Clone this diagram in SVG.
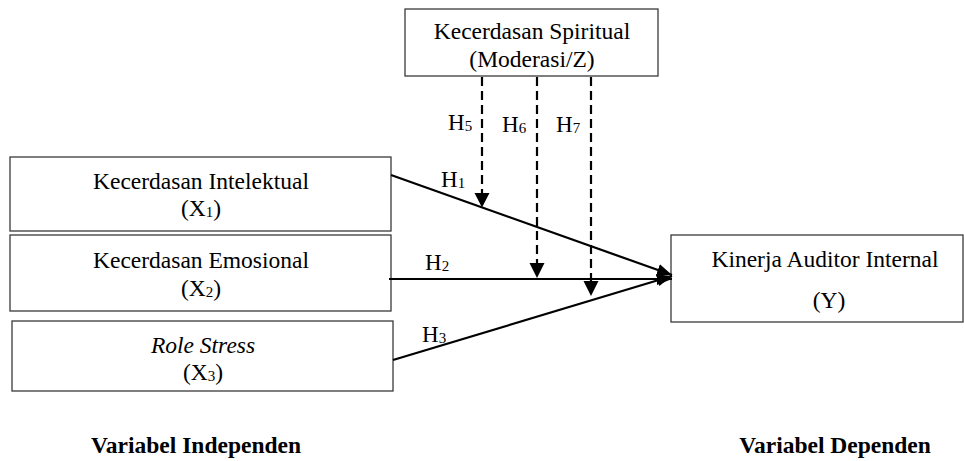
<svg xmlns="http://www.w3.org/2000/svg" width="964" height="461" viewBox="0 0 964 461">
<style>
.box{fill:#fff;stroke:#3a3a3a;stroke-width:1.3}
.t{font-family:"Liberation Serif","Times New Roman",serif;font-size:23.5px;fill:#000;text-anchor:middle}
.h{font-family:"Liberation Serif","Times New Roman",serif;font-size:23px;fill:#000}
.sub{font-size:15px}
.b{font-weight:bold}
.c{stroke:#000;stroke-width:2.2;fill:none}
.d{stroke:#000;stroke-width:2.2;fill:none;stroke-dasharray:9 5}
</style>
<defs>
<marker id="ah" markerUnits="userSpaceOnUse" markerWidth="16" markerHeight="14" refX="15" refY="7" orient="auto">
<path d="M0,1 L15,7 L0,13 Z" fill="#000"/>
</marker>
</defs>
<rect width="964" height="461" fill="#fff"/>
<g id="node-z">
<rect class="box" x="405" y="9" width="253" height="67"/>
<text class="t" x="532" y="39">Kecerdasan Spiritual</text>
<text class="t" x="532" y="67">(Moderasi/Z)</text>
</g>
<g id="node-x1">
<rect class="box" x="10" y="157" width="381" height="74"/>
<text class="t" x="201" y="189">Kecerdasan Intelektual</text>
<text class="t" x="201" y="216">(X<tspan class="sub" dy="1">1</tspan><tspan dy="-1">)</tspan></text>
</g>
<g id="node-x2">
<rect class="box" x="10" y="235" width="381" height="76"/>
<text class="t" x="201" y="268">Kecerdasan Emosional</text>
<text class="t" x="201" y="296">(X<tspan class="sub" dy="1">2</tspan><tspan dy="-1">)</tspan></text>
</g>
<g id="node-x3">
<rect class="box" x="12" y="321" width="381" height="70"/>
<text class="t" x="203" y="353" font-style="italic">Role Stress</text>
<text class="t" x="203" y="380">(X<tspan class="sub" dy="1">3</tspan><tspan dy="-1">)</tspan></text>
</g>
<g id="node-y">
<rect class="box" x="671" y="235" width="292" height="87"/>
<text class="t" x="825" y="267">Kinerja Auditor Internal</text>
<text class="t" x="829" y="308">(Y)</text>
</g>
<g id="connectors">
<line class="c" x1="391" y1="175" x2="672" y2="275" marker-end="url(#ah)"/>
<line class="c" x1="389" y1="279" x2="672" y2="279" marker-end="url(#ah)"/>
<line class="c" x1="393" y1="360" x2="672" y2="276" marker-end="url(#ah)"/>
<line class="d" x1="482" y1="77" x2="482" y2="194"/>
<path d="M474.5,193 L489.5,193 L482,207.5 Z" fill="#000"/>
<line class="d" x1="537" y1="77" x2="537" y2="264"/>
<path d="M529.5,263 L544.5,263 L537,278 Z" fill="#000"/>
<line class="d" x1="591" y1="77" x2="591" y2="282"/>
<path d="M583.5,281 L598.5,281 L591,296 Z" fill="#000"/>
</g>
<g id="labels">
<text class="h" x="441" y="187">H<tspan class="sub" dy="1">1</tspan></text>
<text class="h" x="425" y="270">H<tspan class="sub" dy="1">2</tspan></text>
<text class="h" x="422" y="342">H<tspan class="sub" dy="1">3</tspan></text>
<text class="h" x="448" y="130">H<tspan class="sub" dy="1">5</tspan></text>
<text class="h" x="502" y="132">H<tspan class="sub" dy="1">6</tspan></text>
<text class="h" x="556" y="132">H<tspan class="sub" dy="1">7</tspan></text>
<text class="t b" x="196" y="453">Variabel Independen</text>
<text class="t b" x="835" y="453">Variabel Dependen</text>
</g>
</svg>
